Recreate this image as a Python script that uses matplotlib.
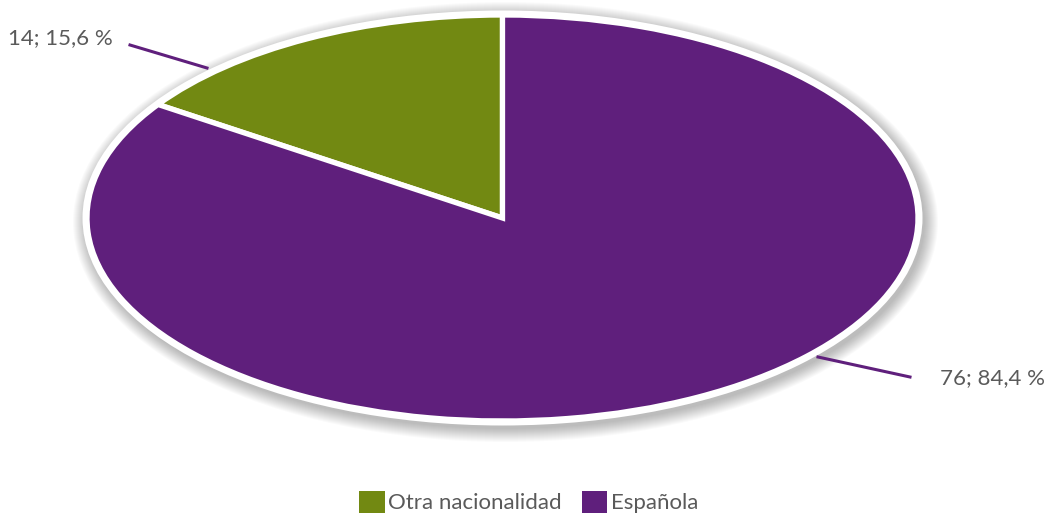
import numpy as np
import matplotlib.pyplot as plt
from matplotlib.patches import Ellipse

# Alumnado por nacionalidad
categorias = ['Otra nacionalidad', 'Española']
valores = [14, 76]
porcentajes = [15.6, 84.4]
colores = ['#728912', '#5F1F7C']

W, H = 1051, 517
fig = plt.figure(figsize=(W / 100, H / 100), dpi=100)

# ejes de la tarta (elipse achatada)
x0, y0, x1, y1 = 87, 15, 918, 421
ax = fig.add_axes([x0 / W, 1 - y1 / H, (x1 - x0) / W, (y1 - y0) / H])
ax.axis('off')

# sombra difusa
px = 2 / (x1 - x0)
py = 2 / (y1 - y0)
for k in range(14):
    e = Ellipse((3 * px, -4 * py), 2 + (4 + k) * 2 * px, 2 + (4 + k) * 2 * py,
                facecolor='black', edgecolor='none', alpha=0.018, zorder=0,
                clip_on=False)
    ax.add_patch(e)
ax.add_patch(Ellipse((0, 0), 2 + 9 * px, 2 + 9 * py, facecolor='white',
                     edgecolor='none', zorder=1, clip_on=False))

wedges, _ = ax.pie(valores, colors=colores, startangle=90, counterclock=True,
                   radius=1, wedgeprops=dict(edgecolor='white', linewidth=3.8))
for w in wedges:
    w.set_zorder(2)
    w.set_clip_on(False)
ax.set_xlim(-1, 1)
ax.set_ylim(-1, 1)
ax.set_aspect('auto')

gris = '#5a5a5a'
font = dict(family='Lato', color=gris)

def fig_xy(x, y):
    return x / W, 1 - y / H

# etiquetas con línea guía
etiquetas = [f'{v}; {p:.1f} %'.replace('.', ',') for v, p in zip(valores, porcentajes)]
guias = [((130, 45), (207, 68)), ((910, 377), (818, 357))]
textos = [((113, 38), 'right'), ((940, 378), 'left')]
for lab, (a, b), (pos, ha) in zip(etiquetas, guias, textos):
    fig.add_artist(plt.Line2D([a[0] / W, b[0] / W], [1 - a[1] / H, 1 - b[1] / H],
                              color='#5F1F7C', linewidth=2.2, zorder=5))
    fig.text(*fig_xy(*pos), lab, ha=ha, va='center', fontsize=16, **font)

# leyenda
leg = fig.legend(wedges, categorias, loc='center', bbox_to_anchor=(0.503, 1 - 502 / H),
                 ncol=2, frameon=False, handlelength=1.15, handleheight=1.15,
                 handletextpad=0.15, columnspacing=0.9,
                 prop=dict(family='Lato', size=16))
for t in leg.get_texts():
    t.set_color(gris)
for h in leg.legend_handles:
    h.set_edgecolor('none')

fig.savefig('out.png', dpi=100)
